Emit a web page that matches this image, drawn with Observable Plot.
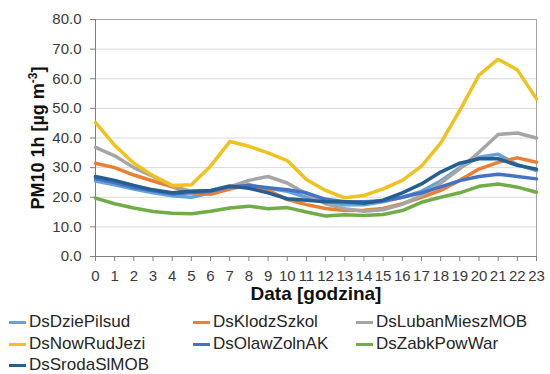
<!DOCTYPE html>
<html>
<head>
<meta charset="utf-8">
<script src="https://cdn.jsdelivr.net/npm/d3@7"></script>
<script src="https://cdn.jsdelivr.net/npm/@observablehq/plot@0.6"></script>
<style>
  body { margin: 0; background: #fff; font-family: "Liberation Sans", Arial, sans-serif; }
  #wrap { position: relative; width: 550px; height: 374px; overflow: hidden; }
  #legend { position: absolute; left: 0; top: 0; width: 550px; height: 374px; pointer-events: none; }
  .item { position: absolute; display: flex; align-items: center; height: 20px; font-size: 17px; color: #262626; white-space: nowrap; }
  .sw { width: 17px; height: 3px; margin-right: 3px; }
</style>
</head>
<body>
<div id="wrap"><div id="legend"></div></div>
<script>
// Hours of the day
const hours = [0, 1, 2, 3, 4, 5, 6, 7, 8, 9, 10, 11, 12, 13, 14, 15, 16, 17, 18, 19, 20, 21, 22, 23];

// Mean hourly PM10 per station [µg/m3]
const DsDziePilsud    = [25.5, 24.2, 22.8, 21.5, 20.5, 20.0, 21.5, 23.0, 23.8, 23.0, 22.0, 20.0, 18.5, 17.5, 17.5, 18.5, 20.0, 22.0, 25.5, 30.0, 33.5, 34.5, 31.0, 29.0];
const DsKlodzSzkol    = [31.5, 30.0, 27.5, 25.5, 23.5, 21.5, 21.0, 22.8, 24.3, 22.3, 19.2, 17.5, 16.2, 15.5, 15.6, 16.2, 17.8, 20.0, 22.3, 25.7, 29.5, 31.8, 33.3, 31.8];
const DsLubanMieszMOB = [36.8, 34.0, 30.0, 27.0, 23.8, 22.0, 22.0, 23.5, 25.7, 27.0, 24.8, 21.2, 17.8, 16.1, 15.3, 15.8, 17.6, 20.6, 24.8, 29.6, 35.2, 41.2, 41.7, 40.0];
const DsNowRudJezi    = [45.3, 37.5, 31.5, 27.3, 24.0, 24.2, 30.5, 38.8, 37.2, 35.0, 32.4, 26.0, 22.3, 19.8, 20.6, 22.8, 25.7, 30.5, 38.3, 49.3, 61.2, 66.6, 63.0, 53.2];
const DsOlawZolnAK    = [26.3, 25.0, 23.3, 22.2, 21.2, 21.5, 22.0, 23.5, 24.0, 23.2, 22.5, 21.5, 19.3, 18.5, 18.5, 18.8, 20.0, 21.5, 23.5, 25.6, 27.0, 27.8, 27.0, 26.2];
const DsZabkPowWar    = [19.7, 17.8, 16.4, 15.2, 14.6, 14.4, 15.3, 16.4, 17.0, 16.1, 16.5, 15.0, 13.7, 14.1, 13.8, 14.2, 15.5, 18.3, 20.0, 21.5, 23.7, 24.5, 23.4, 21.7];
const DsSrodaSlMOB    = [27.0, 25.7, 24.0, 22.5, 21.5, 22.0, 22.3, 23.8, 23.0, 21.5, 19.5, 19.0, 18.5, 18.5, 18.0, 19.0, 21.5, 24.5, 28.5, 31.5, 33.0, 33.0, 30.8, 29.5];

const stationNames = ["DsDziePilsud", "DsKlodzSzkol", "DsLubanMieszMOB", "DsNowRudJezi", "DsOlawZolnAK", "DsZabkPowWar", "DsSrodaSlMOB"];
const stationValues = [DsDziePilsud, DsKlodzSzkol, DsLubanMieszMOB, DsNowRudJezi, DsOlawZolnAK, DsZabkPowWar, DsSrodaSlMOB];
const stationColors = ["#64A3D9", "#ED7D31", "#A5A5A5", "#EFC21E", "#4472C4", "#70AD47", "#255E91"];

const yTicks = [0, 10, 20, 30, 40, 50, 60, 70, 80];
const yTitle = "PM10 1h [µg m-3]";
const xTitle = "Data [godzina]";

// long table: one row per station and hour
const rows = stationNames.flatMap((name, i) =>
  hours.map((h, j) => ({station: name, hour: h, value: stationValues[i][j]}))
);

const font = "'Liberation Sans', Arial, sans-serif";

const chart = Plot.plot({
  width: 550,
  height: 312,
  marginLeft: 95,
  marginRight: 14,
  marginTop: 19,
  marginBottom: 56,
  style: {fontFamily: font, fontSize: "15px", color: "#333", background: "#fff"},
  x: {domain: [0, 23], axis: null},
  y: {domain: [0, 80], axis: null},
  color: {domain: stationNames, range: stationColors},
  marks: [
    Plot.gridY(yTicks.slice(1, -1), {stroke: "#d9d9d9", strokeOpacity: 1}),
    Plot.frame({stroke: "#a6a6a6"}),
    Plot.axisY(yTicks, {
      tickSize: 5, tickPadding: 9, tickFormat: d3.format(".1f"),
      stroke: "#7f7f7f", fill: "#3a3a3a", fontSize: 15, fontFamily: font, label: null
    }),
    Plot.axisX(hours, {
      tickSize: 5, tickPadding: 9, tickFormat: d => String(d),
      stroke: "#7f7f7f", fill: "#3a3a3a", fontSize: 15, fontFamily: font, label: null
    }),
    Plot.ruleX([0], {stroke: "#7f7f7f"}),
    Plot.ruleY([0], {stroke: "#7f7f7f"}),
    Plot.line(rows, {x: "hour", y: "value", stroke: "station", strokeWidth: 3.5, strokeLinejoin: "round", strokeLinecap: "round"}),
    Plot.text([xTitle], {frameAnchor: "bottom", dy: 43, text: d => d, fontSize: 19, fontWeight: "bold", fontFamily: font, fill: "#111"}),
    Plot.text([yTitle], {frameAnchor: "left", textAnchor: "middle", dx: -57, rotate: -90, text: d => d, fontSize: 18, fontWeight: "bold", fontFamily: font, fill: "#111"})
  ]
});

// superscript exponent on the unit of the y title
d3.select(chart).selectAll("text").filter(function () { return this.textContent === yTitle; })
  .each(function () {
    const t = d3.select(this);
    t.text(null);
    t.append("tspan").text("PM10 1h [µg m");
    t.append("tspan").attr("baseline-shift", "super").attr("font-size", "12px").text("-3");
    t.append("tspan").text("]");
  });

const wrap = document.getElementById("wrap");
wrap.insertBefore(chart, wrap.firstChild);

// legend: three columns, rows below the chart
const legend = d3.select("#legend");
const colX = [9, 193, 356];
const rowY = [322, 344, 365];
stationNames.forEach((name, i) => {
  const item = legend.append("div").attr("class", "item")
    .style("left", colX[i % 3] + "px")
    .style("top", (rowY[Math.floor(i / 3)] - 10) + "px");
  item.append("div").attr("class", "sw").style("background", stationColors[i]);
  item.append("span").text(name);
});
</script>
</body>
</html>
